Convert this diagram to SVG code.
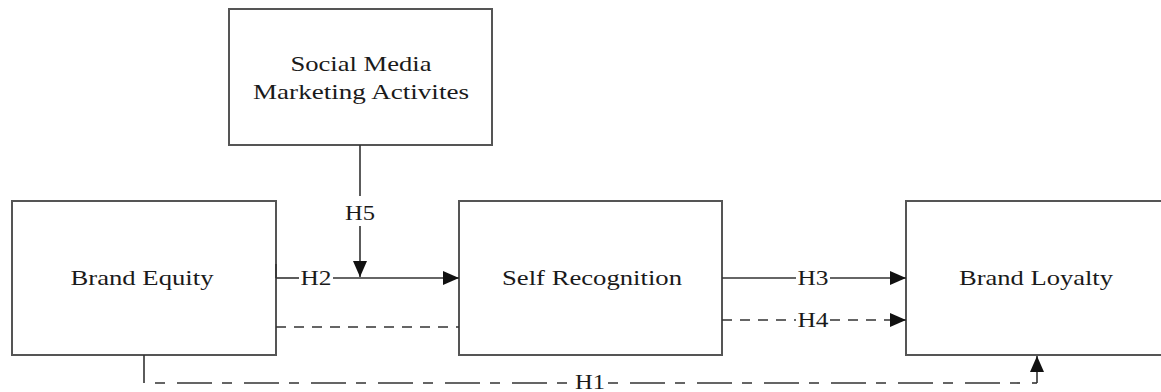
<svg xmlns="http://www.w3.org/2000/svg" width="1161" height="392" viewBox="0 0 1161 392">
<style>
.box{fill:#fff;stroke:#555;stroke-width:2}
.t{font-family:"Liberation Serif","Times New Roman",serif;font-size:21px;fill:#1a1a1a;text-anchor:middle}
.ln{fill:none;stroke:#333;stroke-width:1.6}
.sd{stroke-dasharray:10 8}
.ld{stroke-dasharray:10 12 35 10}
</style>
<defs>
<marker id="arr" viewBox="0 0 16 14" refX="16" refY="7" markerWidth="16" markerHeight="14" markerUnits="userSpaceOnUse" orient="auto">
<path d="M0,0 L16,7 L0,14 z" fill="#111"/>
</marker>
</defs>
<rect width="1161" height="392" fill="#fff"/>
<g id="smma">
<rect class="box" x="229" y="9" width="263" height="136"/>
<text class="t" x="361" y="71" textLength="141" lengthAdjust="spacingAndGlyphs">Social Media</text>
<text class="t" x="361" y="99" textLength="216" lengthAdjust="spacingAndGlyphs">Marketing Activites</text>
</g>
<g id="brand-equity">
<rect class="box" x="12" y="201" width="264" height="154"/>
<text class="t" x="142" y="285" textLength="143" lengthAdjust="spacingAndGlyphs">Brand Equity</text>
</g>
<g id="self-recognition">
<rect class="box" x="459" y="201" width="263" height="154"/>
<text class="t" x="592" y="285" textLength="180" lengthAdjust="spacingAndGlyphs">Self Recognition</text>
</g>
<g id="brand-loyalty">
<rect class="box" x="906" y="201" width="262" height="154"/>
<text class="t" x="1036" y="285" textLength="154" lengthAdjust="spacingAndGlyphs">Brand Loyalty</text>
</g>
<g id="connectors">
<line class="ln" x1="276" y1="264" x2="276" y2="278"/>
<line class="ln" x1="276" y1="278" x2="299" y2="278"/>
<line class="ln" x1="333" y1="278" x2="459" y2="278" marker-end="url(#arr)"/>
<text class="t" x="316" y="285" textLength="31" lengthAdjust="spacingAndGlyphs">H2</text>
<line class="ln" x1="360" y1="145" x2="360" y2="196"/>
<line class="ln" x1="360" y1="226" x2="360" y2="277" marker-end="url(#arr)"/>
<text class="t" x="360" y="220" textLength="30" lengthAdjust="spacingAndGlyphs">H5</text>
<line class="ln sd" x1="276" y1="327" x2="459" y2="327"/>
<line class="ln" x1="722" y1="278" x2="796" y2="278"/>
<line class="ln" x1="830" y1="278" x2="906" y2="278" marker-end="url(#arr)"/>
<text class="t" x="813" y="285" textLength="31" lengthAdjust="spacingAndGlyphs">H3</text>
<line class="ln sd" x1="722" y1="320" x2="796" y2="320"/>
<line class="ln sd" x1="830" y1="320" x2="906" y2="320" marker-end="url(#arr)"/>
<text class="t" x="813" y="327" textLength="31" lengthAdjust="spacingAndGlyphs">H4</text>
<line class="ln" x1="144" y1="355" x2="144" y2="383"/>
<line class="ln ld" x1="155" y1="383" x2="572" y2="383"/>
<line class="ln ld" x1="608" y1="383" x2="1032" y2="383"/>
<line class="ln" x1="1032" y1="383" x2="1037" y2="383"/>
<line class="ln" x1="1037" y1="383" x2="1037" y2="356" marker-end="url(#arr)"/>
<text class="t" x="590" y="389" textLength="30" lengthAdjust="spacingAndGlyphs">H1</text>
</g>
</svg>
